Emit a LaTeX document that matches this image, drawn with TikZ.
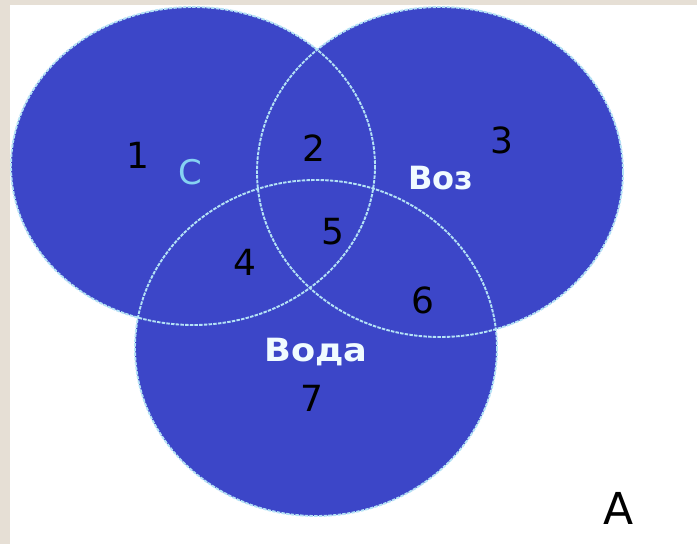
\documentclass[tikz,border=0pt]{standalone}
\usepackage{fontspec}
\setmainfont{DejaVu Sans}
\definecolor{beige}{HTML}{E6DFD5}
\definecolor{vennblue}{HTML}{3C46C8}
\definecolor{edgeblue}{HTML}{B4E2F6}
\definecolor{labelcyan}{HTML}{86D2F2}
\definecolor{labelwhite}{HTML}{F0FBFF}
\tikzset{
  setfill/.style={fill=vennblue, draw=none},
  setedge/.style={draw=edgeblue, line width=1.9pt, dash pattern=on 3.5pt off 1.2pt},
  num/.style={text=black, font=\fontsize{36}{36}\selectfont, inner sep=0pt},
  setlabel/.style={text=labelwhite, font=\bfseries\fontsize{32}{32}\selectfont, inner sep=0pt},
}
\begin{document}
\begin{tikzpicture}[x=1pt,y=-1pt]
\useasboundingbox (0,0) rectangle (697,544);
\fill[beige] (0,0) rectangle (697,544);
\fill[white] (10,5) rectangle (697,544);
% fills
\fill[setfill] (193,166) ellipse [x radius=182, y radius=159];
\fill[setfill] (440,172) ellipse [x radius=183, y radius=165];
\fill[setfill] (316,348) ellipse [x radius=181, y radius=168];
% outlines
\draw[setedge] (193,166) ellipse [x radius=182, y radius=159];
\draw[setedge] (440,172) ellipse [x radius=183, y radius=165];
\draw[setedge] (316,348) ellipse [x radius=181, y radius=168];
% region numbers
\node[num] (n1) at (138,155) {1};
\node[num] (n2) at (314,148) {2};
\node[num] (n3) at (502,140) {3};
\node[num] (n4) at (245,262) {4};
\node[num] (n5) at (333,232) {5};
\node[num] (n6) at (423,300) {6};
\node[num] (n7) at (312,398) {7};
% set labels
\node[setlabel, text=labelcyan, font=\fontsize{34}{34}\selectfont] (lc) at (190,172) {С};
\node[setlabel] (lvoz) at (441,178) {Воз};
\node[setlabel, xscale=1.1] (lvoda) at (316,352) {Вода};
\node[num, font=\fontsize{44}{44}\selectfont] (la) at (619,508) {A};
\end{tikzpicture}
\end{document}
